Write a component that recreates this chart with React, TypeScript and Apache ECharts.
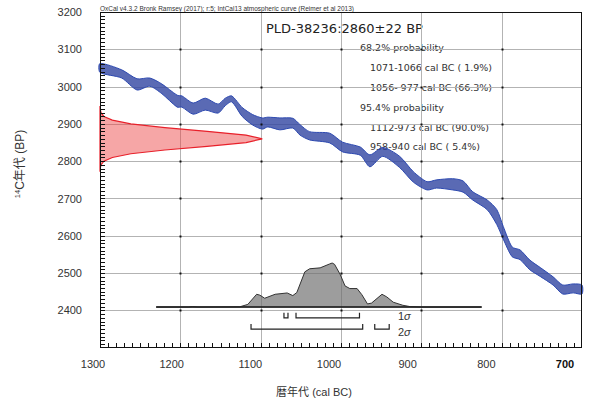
import React, { useEffect, useRef } from "react";
import * as echarts from "echarts";

// IntCal13 curve segment: calendar year (BC), 14C age (BP) and half-width of the band
const CAL_YEARS = [1300, 1273, 1254, 1238, 1223, 1204, 1198, 1184, 1169, 1153, 1144, 1136, 1123, 1110, 1098, 1091, 1076, 1060, 1051, 1039, 1014, 998, 976, 964, 948, 927, 910, 893, 881, 861, 848, 836, 818, 806, 798, 787, 777, 765, 752, 736, 724, 711, 700];
const CAL_BP = [3050, 3034, 3006, 3012, 2994, 2961, 2960, 2941, 2953, 2941, 2959, 2967, 2932, 2911, 2901, 2905, 2900, 2902, 2884, 2868, 2862, 2838, 2827, 2801, 2825, 2798, 2758, 2734, 2739, 2738, 2732, 2707, 2683, 2650, 2608, 2557, 2549, 2522, 2503, 2479, 2456, 2459, 2456];
const CAL_SIGMA = [12, 11, 15, 11, 13, 16, 15, 15, 16, 12, 10, 8, 12, 14, 15, 13, 16, 13, 14, 11, 13, 13, 11, 16, 12, 15, 14, 11, 11, 15, 15, 11, 13, 20, 17, 13, 13, 13, 12, 11, 12, 12, 12];

// Measured radiocarbon date 2860 ± 22 BP (relative probability)
const RC_BP = [2772, 2780, 2790, 2800, 2810, 2820, 2830, 2840, 2850, 2860, 2870, 2880, 2890, 2900, 2910, 2920, 2930, 2940, 2948];
const RC_PROB = [0, 0.001, 0.006, 0.024, 0.076, 0.19, 0.4, 0.66, 0.9, 1, 0.9, 0.66, 0.4, 0.19, 0.076, 0.024, 0.006, 0.001, 0];

// Calibrated date distribution (relative probability per calendar year BC)
const CALIB_YEARS = [1230, 1190, 1185, 1178, 1126, 1116, 1105, 1101, 1095, 1082, 1067, 1060, 1055, 1045, 1039, 1026, 1014, 1011, 1008, 1001, 995, 989, 980, 974, 967, 962, 949, 943, 935, 923, 914, 900, 825];
const CALIB_PROB = [0, 0, 0.01, 0, 0.005, 0.06, 0.29, 0.27, 0.2, 0.29, 0.32, 0.26, 0.33, 0.8, 0.87, 0.89, 0.98, 1.0, 0.97, 0.74, 0.48, 0.42, 0.42, 0.28, 0.07, 0.09, 0.29, 0.23, 0.11, 0.04, 0.01, 0, 0];

// Highest probability ranges
const SIGMA1_RANGES = [[1071, 1066], [1056, 977]];
const SIGMA2_RANGES = [[1112, 973], [958, 940]];

// Axis ticks
const X_TICKS = [1300, 1200, 1100, 1000, 900, 800, 700];
const Y_TICKS = [2400, 2500, 2600, 2700, 2800, 2900, 3000, 3100, 3200];

const HEADER = "OxCal v4.3.2 Bronk Ramsey (2017); r:5; IntCal13 atmospheric curve (Reimer et al 2013)";
const TITLE = "PLD-38236:2860\u00b122 BP";
const SUMMARY_LINES = [
  "68.2% probability",
  "1071-1066 cal BC ( 1.9%)",
  "1056- 977 cal BC (66.3%)",
  "95.4% probability",
  "1112-973 cal BC (90.0%)",
  "958-940 cal BC ( 5.4%)",
];

const X_MIN = 700;
const X_MAX = 1300;
const X_MID = 1000;
const Y_MIN = 2300;
const Y_MAX = 3200;
const Y_MID = 2800;

const FONT = "'Liberation Sans', Arial, 'Noto Sans CJK JP', sans-serif";
const WIDE_FONT = "'DejaVu Sans', 'Noto Sans CJK JP', sans-serif";
const INK = "#111111";

// layout of the drawn distributions, in axis units
const RC_SPAN_YEARS = 202;
const CALIB_BASE_BP = 2409;
const CALIB_HEIGHT_BP = 118;
const ROW1_BP = 2380;
const ROW2_BP = 2350;

const crisp = (v: number) => Math.round(v) + 0.5;

export default function App() {
  const ref = useRef<HTMLDivElement>(null);

  useEffect(() => {
    if (!ref.current) return;
    const chart = echarts.init(ref.current, null, { renderer: "svg" });

    // grey grid lines behind the curves (inner ones; the frame draws the edges)
    const gridLines = (api: any) => {
      const children: any[] = [];
      X_TICKS.slice(1, -1).forEach((v) => {
        const a = api.coord([v, Y_MIN]);
        const b = api.coord([v, Y_MAX]);
        children.push({
          type: "line",
          shape: { x1: crisp(a[0]), y1: a[1], x2: crisp(b[0]), y2: b[1] },
          style: { stroke: "#b3b3b3", lineWidth: 1 },
        });
      });
      Y_TICKS.slice(0, -1).forEach((v) => {
        const a = api.coord([X_MAX, v]);
        const b = api.coord([X_MIN, v]);
        children.push({
          type: "line",
          shape: { x1: a[0], y1: crisp(a[1]), x2: b[0], y2: crisp(b[1]) },
          style: { stroke: "#b3b3b3", lineWidth: 1 },
        });
      });
      return { type: "group", children };
    };

    // frame, 10-unit ticks and grid intersection dots, as thin filled bars
    const frame = (api: any) => {
      const left = Math.round(api.coord([X_MAX, Y_MID])[0]);
      const right = Math.round(api.coord([X_MIN, Y_MID])[0]) - 1;
      const top = Math.round(api.coord([X_MID, Y_MAX])[1]);
      const bottom = Math.round(api.coord([X_MID, Y_MIN])[1]) - 1;
      const bar = (x: number, y: number, w: number, h: number) => ({
        type: "rect",
        shape: { x, y, width: w, height: h },
        style: { fill: INK },
      });
      const children: any[] = [
        bar(left, top, right - left + 1, 1),
        bar(left, bottom, right - left + 1, 1),
        bar(left, top, 1, bottom - top + 1),
        bar(right, top, 1, bottom - top + 1),
      ];
      for (let yr = X_MIN; yr <= X_MAX; yr += 10) {
        const x = Math.round(api.coord([yr, Y_MID])[0]);
        children.push(bar(Math.min(Math.max(x, left), right), bottom - 4, 1, 4));
      }
      for (let bp = Y_MIN; bp <= Y_MAX; bp += 10) {
        const y = Math.round(api.coord([X_MID, bp])[1]);
        children.push(bar(left, Math.min(Math.max(y, top), bottom), 5, 1));
      }
      X_TICKS.slice(1, -1).forEach((xv) => {
        Y_TICKS.slice(0, -1).forEach((yv) => {
          const p = api.coord([xv, yv]);
          children.push(bar(Math.round(p[0]) - 0.5, Math.round(p[1]) - 0.5, 2, 2));
        });
      });
      return { type: "group", children };
    };

    const band = (api: any) => {
      const upper = CAL_YEARS.map((y, i) => api.coord([y, CAL_BP[i] + CAL_SIGMA[i]]));
      const lower = CAL_YEARS.map((y, i) => api.coord([y, CAL_BP[i] - CAL_SIGMA[i]])).reverse();
      return {
        type: "polygon",
        shape: { points: upper.concat(lower), smooth: 0.25 },
        style: { fill: "rgba(49,69,161,0.8)", stroke: "#2d49b0", lineWidth: 1 },
      };
    };

    const rcCurve = (api: any) => {
      const pts = RC_BP.map((bp, i) => api.coord([X_MAX - RC_PROB[i] * RC_SPAN_YEARS, bp]));
      return {
        type: "polygon",
        shape: { points: pts },
        style: { fill: "rgba(236,70,70,0.48)", stroke: "#e8202a", lineWidth: 1.2 },
      };
    };

    const calibCurve = (api: any) => {
      const pts = CALIB_YEARS.map((yr, i) => api.coord([yr, CALIB_BASE_BP + CALIB_PROB[i] * CALIB_HEIGHT_BP]));
      const first = api.coord([CALIB_YEARS[0], CALIB_BASE_BP]);
      const last = api.coord([CALIB_YEARS[CALIB_YEARS.length - 1], CALIB_BASE_BP]);
      return {
        type: "group",
        children: [
          {
            type: "polygon",
            shape: { points: [first, ...pts, last] },
            style: { fill: "rgba(110,110,110,0.68)", stroke: "#333", lineWidth: 1 },
          },
          {
            type: "line",
            shape: { x1: first[0], y1: first[1], x2: last[0], y2: last[1] },
            style: { stroke: "#222", lineWidth: 1.6 },
          },
        ],
      };
    };

    const brackets = (api: any) => {
      const rows: [number[][], number][] = [
        [SIGMA1_RANGES, ROW1_BP],
        [SIGMA2_RANGES, ROW2_BP],
      ];
      const children: any[] = [];
      rows.forEach(([ranges, bp]) => {
        ranges.forEach(([a, b]) => {
          const p1 = api.coord([a, bp]);
          const p2 = api.coord([b, bp]);
          children.push({
            type: "polyline",
            shape: { points: [[p1[0], p1[1] - 5], p1, p2, [p2[0], p2[1] - 5]] },
            style: { stroke: "#222", lineWidth: 1.2, fill: "none" },
          });
        });
      });
      return { type: "group", children };
    };

    const custom = (renderer: (api: any) => any, z: number) => ({
      type: "custom",
      coordinateSystem: "cartesian2d",
      xAxisIndex: 0,
      yAxisIndex: 0,
      z,
      silent: true,
      clip: false,
      data: [[1000, 2800]],
      renderItem: (_p: any, api: any) => renderer(api),
    });

    const plainAxis = (extra: any) => ({
      type: "value",
      axisLine: { show: false },
      axisTick: { show: false },
      axisLabel: { show: false },
      splitLine: { show: false },
      ...extra,
    });

    const texts: any[] = [
      {
        type: "text",
        x: 100,
        y: 8,
        style: { text: HEADER, fontSize: 6.5, fill: "#333", fontFamily: FONT, align: "left", verticalAlign: "middle" },
      },
      {
        type: "text",
        x: 266,
        y: 28,
        style: { text: TITLE, fontSize: 13, fill: "#222", fontFamily: WIDE_FONT, align: "left", verticalAlign: "middle" },
      },
      ...SUMMARY_LINES.map((line, i) => ({
        type: "text",
        x: line.includes("probability") ? 360 : 370,
        y: [47, 67, 87, 107, 127, 146][i],
        style: { text: line, fontSize: 9.5, fill: "#333", fontFamily: WIDE_FONT, align: "left", verticalAlign: "middle" },
      })),
      ...["1", "2"].map((n, i) => ({
        type: "text",
        x: 398,
        y: [316, 332][i],
        style: {
          text: `{n|${n}}{s|\u03c3}`,
          rich: {
            n: { fontSize: 11, fill: "#333", fontFamily: FONT },
            s: { fontSize: 11, fill: "#333", fontFamily: FONT, fontStyle: "italic" },
          },
          align: "left",
          verticalAlign: "middle",
        },
      })),
      {
        type: "text",
        x: 20,
        y: 164,
        rotation: Math.PI / 2,
        style: {
          text: "{sup|14}{n|C年代 (BP)}",
          rich: {
            sup: { fontSize: 7.5, fill: "#333", fontFamily: FONT, verticalAlign: "top" },
            n: { fontSize: 12, fill: "#333", fontFamily: FONT },
          },
          align: "center",
          verticalAlign: "middle",
        },
      },
      {
        type: "text",
        x: 314,
        y: 392,
        style: {
          text: "暦年代 (cal BC)",
          fontSize: 11,
          fill: "#333",
          fontFamily: FONT,
          align: "center",
          verticalAlign: "middle",
        },
      },
    ];

    chart.setOption({
      animation: false,
      backgroundColor: "#fff",
      grid: [
        { left: 100, right: 12, top: 12, bottom: 57.3, show: false },
        { left: 93, right: 29, top: 12, bottom: 57.3, show: false },
      ],
      xAxis: [
        plainAxis({ gridIndex: 0, min: X_MIN, max: X_MAX, interval: 100, inverse: true }),
        plainAxis({
          gridIndex: 1,
          min: X_MIN,
          max: X_MAX,
          interval: 100,
          inverse: true,
          axisLabel: {
            show: true,
            margin: 11,
            fontSize: 11,
            color: "#333",
            fontFamily: FONT,
            formatter: (v: number) => (v === X_MIN ? `{b|${v}}` : `${v}`),
            rich: { b: { fontWeight: "bold", fontSize: 11, color: "#111", fontFamily: FONT } },
          },
        }),
      ],
      yAxis: [
        plainAxis({
          gridIndex: 0,
          min: Y_MIN,
          max: Y_MAX,
          interval: 100,
          axisLabel: {
            show: true,
            showMinLabel: false,
            margin: 18,
            fontSize: 11,
            color: "#333",
            fontFamily: FONT,
            padding: [4, 0, 0, 0],
            formatter: (v: number) => String(v),
          },
        }),
        plainAxis({ gridIndex: 1, min: 0, max: 1, show: false }),
      ],
      series: [
        custom(gridLines, 1),
        custom(band, 3),
        custom(rcCurve, 4),
        custom(calibCurve, 4),
        custom(brackets, 5),
        custom(frame, 6),
      ],
      graphic: texts,
    });

    return () => chart.dispose();
  }, []);

  return (
    <div
      ref={ref}
      style={{ position: "fixed", left: 0, top: 0, width: 594, height: 405, background: "#fff" }}
    />
  );
}
